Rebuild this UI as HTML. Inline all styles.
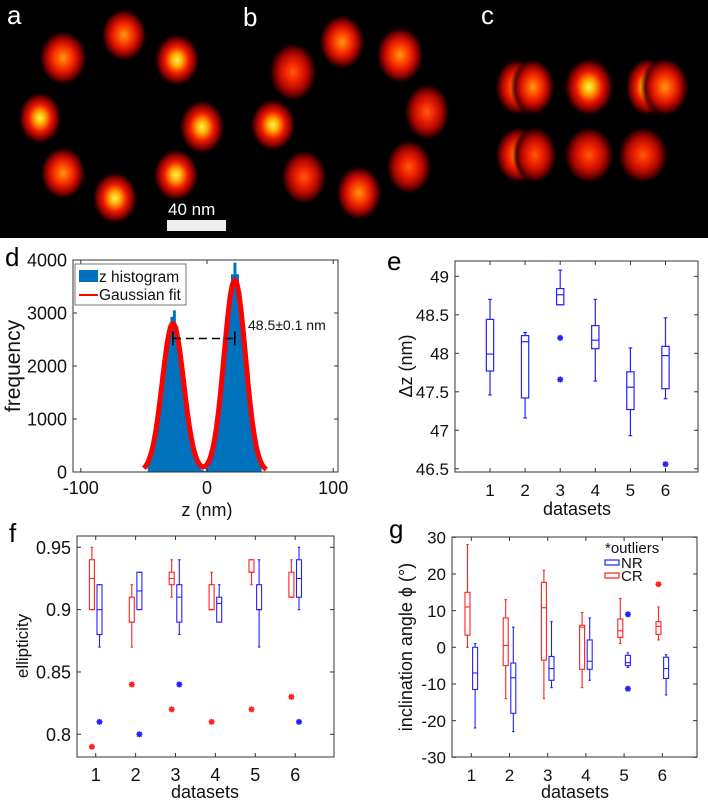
<!DOCTYPE html>
<html><head><meta charset="utf-8">
<style>
html,body{margin:0;padding:0;background:#fff;}
svg{display:block;font-family:"Liberation Sans",sans-serif;}
</style></head>
<body>
<svg id="fig" width="708" height="800" viewBox="0 0 708 800" xmlns="http://www.w3.org/2000/svg">
<defs>
<radialGradient id="blobY" cx="50%" cy="50%" r="50%">
<stop offset="0" stop-color="#fff25a"/><stop offset="0.22" stop-color="#ffb000"/><stop offset="0.5" stop-color="#f01800"/><stop offset="0.78" stop-color="#700000"/><stop offset="1" stop-color="#000" stop-opacity="0"/>
</radialGradient>
<radialGradient id="blobO" cx="50%" cy="50%" r="50%">
<stop offset="0" stop-color="#ff9a10"/><stop offset="0.28" stop-color="#ff4a00"/><stop offset="0.55" stop-color="#d81000"/><stop offset="0.8" stop-color="#600000"/><stop offset="1" stop-color="#000" stop-opacity="0"/>
</radialGradient>
<radialGradient id="blobR" cx="50%" cy="50%" r="50%">
<stop offset="0" stop-color="#ff5a08"/><stop offset="0.32" stop-color="#ee2200"/><stop offset="0.6" stop-color="#b00800"/><stop offset="0.82" stop-color="#480000"/><stop offset="1" stop-color="#000" stop-opacity="0"/>
</radialGradient>
</defs>
<rect x="0" y="0" width="708" height="238" fill="#000"/>
<g id="blobs"></g>
<text x="7" y="24" font-size="26" fill="#fff">a</text>
<text x="243" y="26" font-size="26" fill="#fff">b</text>
<text x="481" y="24" font-size="26" fill="#fff">c</text>
<rect x="167" y="220" width="59" height="11" fill="#eee"/>
<text x="168" y="215" font-size="17" fill="#fff">40 nm</text>
<g id="pd"></g>
<g id="pe"></g>
<g id="pf"></g>
<g id="pg"></g>
</svg>
<script>
const blobX=[63,124,177,40,202,63,115,176, 293,342,400,427,273,409,304,359, 517,533,589,647,665, 518,535,589,643];
const blobY=[58,35,60,118,127,173,198,175, 72,42,55,112,125,167,177,193, 87,87,87,87,87, 155,155,155,155];
const blobRX=[22,21,21,20,21,21,21,21, 22,21,22,21,21,21,21,21, 20,20,23,20,22, 21,20,23,23];
const blobRY=[26,25,25,25,26,25,25,25, 28,26,27,27,25,26,26,26, 27,27,28,28,28, 27,27,27,27];
const blobS=["O","O","Y","Y","Y","O","Y","Y", "R","O","O","R","Y","R","R","O", "O","O","Y","Y","O", "O","R","R","R"];
const histCounts=[177,310,507,788,1148,1566,2012,2428,2750,2926,3050,2750,2428,2012,1566,1148,788,507,310,177,94,47,20,
 88,169,308,520,832,1251,1763,2337,2907,3396,3731,3950,3731,3396,2907,2337,1763,1251,832,520,308,169];
const histStart=-46, histBin=2;
const fitMu=[-27,22], fitAmp=[2800,3620], fitSigma=[8.5,8.5];
const dXTicks=[-100,0,100], dYTicks=[0,1000,2000,3000,4000];
const eMed=[47.99,48.15,48.76,48.17,47.56,47.97];
const eQ1=[47.77,47.42,48.63,48.06,47.27,47.54];
const eQ3=[48.44,48.23,48.84,48.36,47.76,48.09];
const eLo=[47.46,47.16,48.63,47.64,46.93,47.41];
const eHi=[48.70,48.27,49.08,48.70,48.07,48.46];
const eOut=[[],[],[48.2,47.66],[],[],[46.56]];
const eYTicks=[46.5,47,47.5,48,48.5,49];
const cats=[1,2,3,4,5,6];
const fCRmed=[0.925,0.89,0.925,0.90,0.93,0.91];
const fCRq1=[0.90,0.89,0.92,0.90,0.93,0.91];
const fCRq3=[0.94,0.91,0.93,0.92,0.94,0.93];
const fCRlo=[0.90,0.87,0.91,0.90,0.92,0.91];
const fCRhi=[0.95,0.92,0.94,0.93,0.94,0.94];
const fCRout=[[0.79],[0.84],[0.82],[0.81],[0.82],[0.83]];
const fNRmed=[0.90,0.915,0.91,0.905,0.90,0.925];
const fNRq1=[0.88,0.90,0.89,0.89,0.90,0.91];
const fNRq3=[0.92,0.93,0.92,0.91,0.92,0.94];
const fNRlo=[0.87,0.90,0.88,0.89,0.87,0.90];
const fNRhi=[0.92,0.93,0.94,0.92,0.94,0.95];
const fNRout=[[0.81],[0.80],[0.84],[],[],[0.81]];
const fYTicks=[0.8,0.85,0.9,0.95];
const gCRmed=[11,0.5,10.8,5.5,4.5,5.7];
const gCRq1=[3.3,-5,-3.5,-6,2.7,3.5];
const gCRq3=[15,8,17.7,6,7.7,7];
const gCRlo=[0,-14,-14,-11,1,2];
const gCRhi=[28,13,21,9.5,13.3,11];
const gCRout=[[],[],[],[],[],[17.2]];
const gNRmed=[-7,-8.3,-5.8,-3.8,-4.2,-5.8];
const gNRq1=[-11.5,-18,-9,-6,-5,-8.5];
const gNRq3=[0,-4.3,-2.5,2,-2.2,-2.7];
const gNRlo=[-22,-23,-11,-9,-5.5,-13];
const gNRhi=[1,5.5,7,8,-1.5,-2];
const gNROut=[[],[],[],[],[9,-11.3],[]];
const gYTicks=[-30,-20,-10,0,10,20,30];

const NS="http://www.w3.org/2000/svg";
function mk(parent,tag,attrs,txt){const e=document.createElementNS(NS,tag);for(const k in attrs)e.setAttribute(k,attrs[k]);if(txt!==undefined)e.textContent=txt;parent.appendChild(e);return e;}

const gb=document.getElementById('blobs');
for(let i=0;i<blobX.length;i++){
  const el=mk(gb,'ellipse',{cx:blobX[i],cy:blobY[i],rx:blobRX[i]*1.12,ry:blobRY[i]*1.08,fill:'url(#blob'+blobS[i]+')'});
  
  
}

function axesBox(g,L,T,R,B,name){
  const r=mk(g,'rect',{x:L,y:T,width:R-L,height:B-T,fill:'none',stroke:'#333',"stroke-width":1});
  
  
}
function yTicks(g,ticks,ys,L,R,fmt,fs){
  ticks.forEach(t=>{const y=ys(t);
    mk(g,'line',{x1:L,y1:y,x2:L+4,y2:y,stroke:'#333'});
    mk(g,'line',{x1:R,y1:y,x2:R-4,y2:y,stroke:'#333'});
    const tx=mk(g,'text',{x:L-6,y:y+fs*0.36,"font-size":fs,"text-anchor":"end",fill:'#111'},fmt(t));
    
    
  });
}
function xTicks(g,ticks,xs,T,B,labY,fs){
  ticks.forEach(t=>{const x=xs(t);
    mk(g,'line',{x1:x,y1:B,x2:x,y2:B-4,stroke:'#333'});
    mk(g,'line',{x1:x,y1:T,x2:x,y2:T+4,stroke:'#333'});
    const tx=mk(g,'text',{x:x,y:labY,"font-size":fs,"text-anchor":"middle",fill:'#111'},String(t));
    
    
  });
}
function star(g,x,y,c){
  const s=mk(g,'g',{stroke:c,"stroke-width":1.6});
  
  
  mk(s,'line',{x1:x-3,y1:y,x2:x+3,y2:y});
  mk(s,'line',{x1:x,y1:y-3,x2:x,y2:y+3});
  mk(s,'line',{x1:x-2.2,y1:y-2.2,x2:x+2.2,y2:y+2.2});
  mk(s,'line',{x1:x-2.2,y1:y+2.2,x2:x+2.2,y2:y-2.2});
}
function box(g,x,w,ys,lo,q1,med,q3,hi,outs,c,sw){
  const b=mk(g,'g',{stroke:c,fill:'none',"stroke-width":sw});
  
  
  mk(b,'line',{x1:x,y1:ys(hi),x2:x,y2:ys(q3)});
  mk(b,'line',{x1:x,y1:ys(q1),x2:x,y2:ys(lo)});
  mk(b,'line',{x1:x-w/4,y1:ys(hi),x2:x+w/4,y2:ys(hi)});
  mk(b,'line',{x1:x-w/4,y1:ys(lo),x2:x+w/4,y2:ys(lo)});
  mk(b,'rect',{x:x-w/2,y:ys(q3),width:w,height:Math.max(0.5,ys(q1)-ys(q3))});
  mk(b,'line',{x1:x-w/2,y1:ys(med),x2:x+w/2,y2:ys(med)});
  outs.forEach(o=>star(g,x,ys(o),c));
}

(function(){
  const g=document.getElementById('pd');
  const L=73,R=338,T=260,B=472;
  const xs=z=>207+z*1.262, ys=v=>B-(v/4000)*(B-T);
  const hg=mk(g,'g',{fill:'#0072bd'});
  
  
  histCounts.forEach((c,i)=>{const z=histStart+i*histBin;
    const r=mk(hg,'rect',{x:xs(z-histBin/2),y:ys(c),width:histBin*1.262+0.4,height:B-ys(c)});
    
    
  });
  let d='';
  for(let z=-50;z<=47;z+=0.5){let v=0;for(let k=0;k<fitMu.length;k++)v+=fitAmp[k]*Math.exp(-Math.pow(z-fitMu[k],2)/(2*fitSigma[k]*fitSigma[k]));d+=(d?'L':'M')+xs(z).toFixed(1)+','+ys(v).toFixed(1);}
  const fl=mk(g,'path',{d:d,fill:'none',stroke:'#ff0000',"stroke-width":5,"stroke-linejoin":"round"});
  
  
  axesBox(g,L,T,R,B,'panel-d-axes');
  yTicks(g,dYTicks,ys,L,R,t=>String(t),18);
  xTicks(g,dXTicks,xs,T,B,494,18);
  const yy=ys(2520);
  const dm=mk(g,'g',{stroke:'#000',"stroke-width":1.5});
  
  
  mk(dm,'line',{x1:xs(fitMu[0]),y1:yy,x2:xs(fitMu[1]),y2:yy,"stroke-dasharray":"8,5"});
  mk(dm,'line',{x1:xs(fitMu[0]),y1:yy-7,x2:xs(fitMu[0]),y2:yy+7});
  mk(dm,'line',{x1:xs(fitMu[1]),y1:yy-7,x2:xs(fitMu[1]),y2:yy+7});
  const at=mk(g,'text',{x:248,y:330,"font-size":14,fill:'#111'},'48.5±0.1 nm');
  
  
  const lg=mk(g,'g',{});
  
  
  mk(lg,'rect',{x:75,y:264,width:111,height:41,fill:'#fff',stroke:'#555',"stroke-width":0.8});
  mk(lg,'rect',{x:79,y:270,width:19,height:12,fill:'#0072bd'});
  const t1=mk(lg,'text',{x:99,y:282,"font-size":15.5,fill:'#111'},'z histogram');
  
  
  mk(lg,'line',{x1:79,y1:295,x2:98,y2:295,stroke:'#f00',"stroke-width":2});
  const t2=mk(lg,'text',{x:99,y:300,"font-size":15.5,fill:'#111'},'Gaussian fit');
  
  
  const yl=mk(g,'text',{x:0,y:0,"font-size":21,"text-anchor":"middle",fill:'#111',transform:'translate(20,366) rotate(-90)'},'frequency');
  
  
  const xl=mk(g,'text',{x:207,y:516,"font-size":18,"text-anchor":"middle",fill:'#111'},'z (nm)');
  
  
  const pl=mk(g,'text',{x:5,y:266,"font-size":26,fill:'#000'},'d');
  
  
})();

(function(){
  const g=document.getElementById('pe');
  const L=455,R=698,T=261,B=472;
  const xs=p=>490+(p-1)*35.1, ys=v=>276.3+(49-v)*77;
  axesBox(g,L,T,R,B,'panel-e-axes');
  yTicks(g,eYTicks,ys,L,R,t=>String(t),17);
  xTicks(g,cats,xs,T,B,496,17);
  cats.forEach((c,i)=>box(g,xs(c),7.3,ys,eLo[i],eQ1[i],eMed[i],eQ3[i],eHi[i],eOut[i],'#2222ff',1.2));
  const yl=mk(g,'text',{x:0,y:0,"font-size":18,"text-anchor":"middle",fill:'#111',transform:'translate(412,366) rotate(-90)'},'Δz (nm)');
  
  
  const xl=mk(g,'text',{x:577,y:515,"font-size":18,"text-anchor":"middle",fill:'#111'},'datasets');
  
  
  const pl=mk(g,'text',{x:387,y:270,"font-size":26,fill:'#000'},'e');
  
  
})();

(function(){
  const g=document.getElementById('pf');
  const L=77,R=334,T=536,B=757;
  const xs=p=>95.7+(p-1)*39.9, ys=v=>547.3+(0.95-v)*1246.7;
  axesBox(g,L,T,R,B,'panel-f-axes');
  yTicks(g,fYTicks,ys,L,R,t=>String(t),18);
  xTicks(g,cats,xs,T,B,781,18);
  cats.forEach((c,i)=>{
    box(g,xs(c)-3.8,5,ys,fCRlo[i],fCRq1[i],fCRmed[i],fCRq3[i],fCRhi[i],fCRout[i],'#ff2020',1.1);
    box(g,xs(c)+3.8,5,ys,fNRlo[i],fNRq1[i],fNRmed[i],fNRq3[i],fNRhi[i],fNRout[i],'#2222ff',1.1);
  });
  const yl=mk(g,'text',{x:0,y:0,"font-size":17,"text-anchor":"middle",fill:'#111',transform:'translate(28,646) rotate(-90)'},'ellipticity');
  
  
  const xl=mk(g,'text',{x:205,y:798,"font-size":18,"text-anchor":"middle",fill:'#111'},'datasets');
  
  
  const pl=mk(g,'text',{x:9,y:542,"font-size":26,fill:'#000'},'f');
  
  
})();

(function(){
  const g=document.getElementById('pg');
  const L=452,R=697,T=537,B=757;
  const xs=p=>471.3+(p-1)*38.2, ys=v=>647.3-v*3.667;
  axesBox(g,L,T,R,B,'panel-g-axes');
  yTicks(g,gYTicks,ys,L,R,t=>String(t),17);
  xTicks(g,cats,xs,T,B,781,17);
  cats.forEach((c,i)=>{
    box(g,xs(c)-3.8,5,ys,gCRlo[i],gCRq1[i],gCRmed[i],gCRq3[i],gCRhi[i],gCRout[i],'#ff2020',1.1);
    box(g,xs(c)+3.8,5,ys,gNRlo[i],gNRq1[i],gNRmed[i],gNRq3[i],gNRhi[i],gNROut[i],'#2222ff',1.1);
  });
  const lg=mk(g,'g',{});
  
  
  const l0=mk(lg,'text',{x:605,y:553,"font-size":15,fill:'#111'},'*outliers');
  
  
  mk(lg,'rect',{x:605,y:560,width:14,height:5,fill:'none',stroke:'#2222ff',"stroke-width":1.2});
  const l1=mk(lg,'text',{x:621,y:568,"font-size":15,fill:'#111'},'NR');
  
  
  mk(lg,'rect',{x:605,y:573,width:14,height:5,fill:'none',stroke:'#ff2020',"stroke-width":1.2});
  const l2=mk(lg,'text',{x:621,y:581,"font-size":15,fill:'#111'},'CR');
  
  
  const yl=mk(g,'text',{x:0,y:0,"font-size":18,"text-anchor":"middle",fill:'#111',transform:'translate(412,647) rotate(-90)'},'inclination angle ϕ (°)');
  
  
  const xl=mk(g,'text',{x:575,y:798,"font-size":18,"text-anchor":"middle",fill:'#111'},'datasets');
  
  
  const pl=mk(g,'text',{x:389,y:538,"font-size":26,fill:'#000'},'g');
  
  
})();
</script>
</body></html>
